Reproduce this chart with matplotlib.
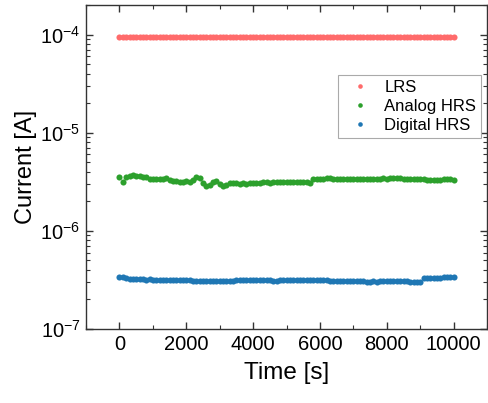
import numpy as np
import matplotlib
matplotlib.use("Agg")
import matplotlib.pyplot as plt
from matplotlib.ticker import LogLocator, MultipleLocator, LogFormatterMathtext, NullFormatter

plt.rcParams['font.family'] = ['Liberation Sans', 'DejaVu Sans']
plt.rcParams['mathtext.fontset'] = 'custom'
plt.rcParams['mathtext.rm'] = 'Liberation Sans'
plt.rcParams['mathtext.it'] = 'Liberation Sans:italic'
plt.rcParams['mathtext.bf'] = 'Liberation Sans:bold'

# time axis, 100 s step
time_s = list(range(0, 10001, 100))

lrs_A = [9.4e-5] * 101

analog_hrs_uA = [
    3.55, 3.15, 3.55, 3.65, 3.75, 3.65, 3.60, 3.55, 3.50, 3.40,
    3.35, 3.40, 3.38, 3.40, 3.45, 3.30, 3.25, 3.20, 3.18, 3.18,
    3.20, 3.15, 3.30, 3.50, 3.45, 3.10, 2.88, 2.90, 3.15, 3.20,
    3.00, 2.85, 2.95, 3.05, 3.05, 3.05, 3.00, 3.05, 3.02, 3.05,
    3.10, 3.10, 3.10, 3.12, 3.12, 3.10, 3.12, 3.15, 3.13, 3.15,
    3.12, 3.15, 3.15, 3.14, 3.12, 3.14, 3.13, 3.10, 3.40, 3.38,
    3.40, 3.40, 3.42, 3.42, 3.40, 3.40, 3.38, 3.40, 3.40, 3.38,
    3.40, 3.36, 3.35, 3.38, 3.40, 3.40, 3.38, 3.40, 3.40, 3.42,
    3.40, 3.42, 3.42, 3.43, 3.42, 3.40, 3.40, 3.38, 3.38, 3.36,
    3.35, 3.35, 3.33, 3.32, 3.32, 3.33, 3.33, 3.36, 3.40, 3.38,
    3.32,
]

digital_hrs_e7 = [
    3.42, 3.35, 3.28, 3.22, 3.20, 3.20, 3.21, 3.20, 3.19, 3.20,
    3.18, 3.17, 3.18, 3.17, 3.18, 3.16, 3.17, 3.18, 3.16, 3.15,
    3.14, 3.13, 3.12, 3.12, 3.10, 3.11, 3.11, 3.12, 3.12, 3.10,
    3.09, 3.11, 3.10, 3.11, 3.12, 3.13, 3.14, 3.13, 3.14, 3.14,
    3.15, 3.15, 3.14, 3.15, 3.14, 3.13, 3.12, 3.12, 3.13, 3.14,
    3.14, 3.13, 3.14, 3.15, 3.14, 3.15, 3.16, 3.17, 3.17, 3.16,
    3.17, 3.15, 3.14, 3.12, 3.11, 3.10, 3.10, 3.09, 3.08, 3.07,
    3.07, 3.06, 3.05, 3.05, 3.04, 3.04, 3.05, 3.04, 3.05, 3.05,
    3.06, 3.07, 3.06, 3.06, 3.05, 3.05, 3.05, 3.04, 3.04, 3.03,
    3.02, 3.32, 3.33, 3.33, 3.34, 3.34, 3.34, 3.35, 3.35, 3.36,
    3.36,
]

series_labels = ["LRS", "Analog HRS", "Digital HRS"]
colors = ["#ff6b6b", "#2ca02c", "#1f77b4"]

t = np.array(time_s)
lrs = np.array(lrs_A)
analog = np.array(analog_hrs_uA) * 1e-6
digital = np.array(digital_hrs_e7) * 1e-7

fig = plt.figure(figsize=(4.89, 4.03), dpi=100)
ax = fig.add_axes([0.176, 0.1836, 0.820, 0.804])

for y, lab, c in zip([lrs, analog, digital], series_labels, colors):
    ax.plot(t, y, linestyle='none', marker='o', markersize=4.4,
            markeredgewidth=0, color=c, label=lab)

ax.set_yscale('log')
ax.set_xlim(-1000, 11000)
ax.set_ylim(1e-7, 2e-4)

ax.xaxis.set_major_locator(MultipleLocator(2000))
ax.xaxis.set_minor_locator(MultipleLocator(1000))
ax.yaxis.set_major_locator(LogLocator(base=10, numticks=10))
ax.yaxis.set_minor_locator(LogLocator(base=10, subs=np.arange(2, 10), numticks=10))
ax.yaxis.set_major_formatter(LogFormatterMathtext())
ax.yaxis.set_minor_formatter(NullFormatter())

spine_color = '#333333'
for s in ax.spines.values():
    s.set_color(spine_color)
    s.set_linewidth(1.0)

ax.tick_params(which='both', direction='in', top=True, right=True, color=spine_color)
ax.tick_params(which='major', length=5, width=1.0, labelsize=14.5, pad=4)
ax.tick_params(which='minor', length=3, width=0.8)

ax.set_xlabel('Time [s]', fontsize=17.5, labelpad=6)
ax.set_ylabel('Current [A]', fontsize=17, labelpad=2)

leg = ax.legend(loc='upper right', bbox_to_anchor=(0.985, 0.784), borderaxespad=0,
                fontsize=12, frameon=True, fancybox=False, framealpha=1,
                edgecolor='#aaaaaa', markerscale=0.75, handletextpad=0.45,
                borderpad=0.3, labelspacing=0.25, handlelength=2.0)
leg.get_frame().set_linewidth(0.8)

fig.savefig('out.png', dpi=100)
